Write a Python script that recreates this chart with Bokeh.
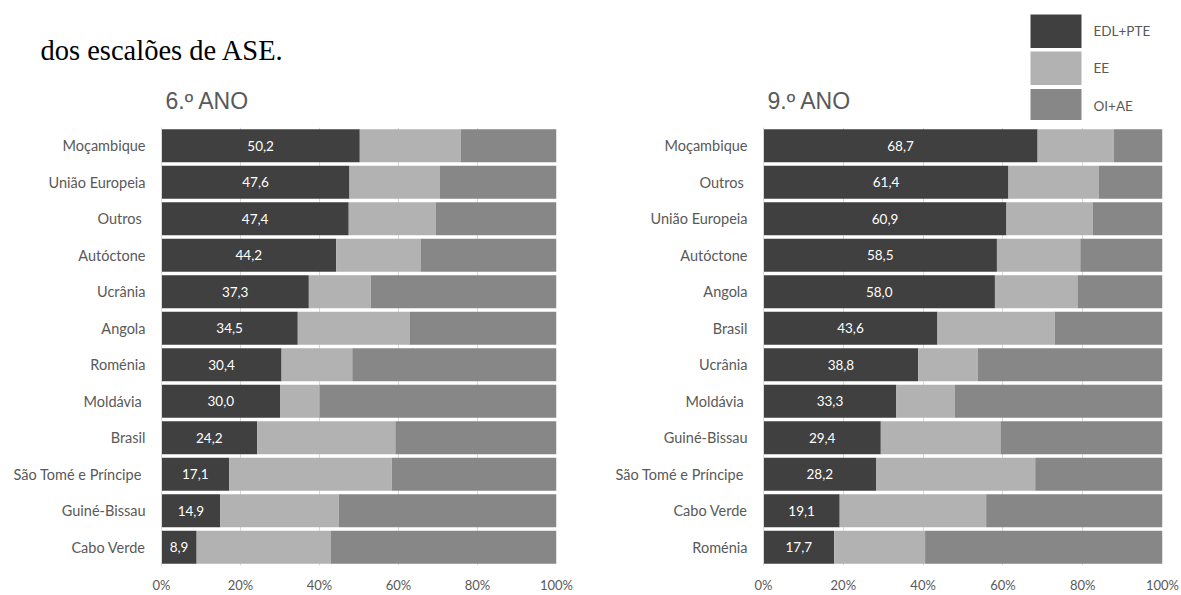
from bokeh.plotting import figure
from bokeh.models import ColumnDataSource, FactorRange, Range1d, FixedTicker, PrintfTickFormatter
from bokeh.layouts import row, column
from bokeh.embed import file_html
from bokeh.resources import INLINE
from bokeh.core.properties import value

# ---------------- data ----------------
series = ["EDL+PTE", "EE", "OI+AE"]
colors = ["#404040", "#b2b2b2", "#878787"]

cats_6 = ["Moçambique", "União Europeia", "Outros ", "Autóctone", "Ucrânia", "Angola",
          "Roménia", "Moldávia ", "Brasil", "São Tomé e Príncipe ", "Guiné-Bissau", "Cabo Verde"]
edl_6 = [50.2, 47.6, 47.4, 44.2, 37.3, 34.5, 30.4, 30.0, 24.2, 17.1, 14.9, 8.9]
ee_6 = [25.6, 22.8, 22.0, 21.4, 15.7, 28.3, 17.9, 10.0, 35.0, 41.2, 30.0, 33.9]
oi_6 = [24.2, 29.6, 30.6, 34.4, 47.0, 37.2, 51.7, 60.0, 40.8, 41.7, 55.1, 57.2]

cats_9 = ["Moçambique", "Outros ", "União Europeia", "Autóctone", "Angola", "Brasil",
          "Ucrânia", "Moldávia ", "Guiné-Bissau", "São Tomé e Príncipe ", "Cabo Verde", "Roménia"]
edl_9 = [68.7, 61.4, 60.9, 58.5, 58.0, 43.6, 38.8, 33.3, 29.4, 28.2, 19.1, 17.7]
ee_9 = [19.1, 22.6, 21.6, 20.9, 20.7, 29.4, 14.9, 14.6, 30.0, 39.9, 36.7, 22.8]
oi_9 = [12.2, 16.0, 17.5, 20.6, 21.3, 27.0, 46.3, 52.1, 40.6, 31.9, 44.2, 59.5]

x_ticks = [0, 20, 40, 60, 80, 100]
title_text = "dos escalões de ASE."
subtitles = ["6.º ANO", "9.º ANO"]

# ---------------- layout / style constants ----------------
PAGE_W = 1181
HEADER_H = 120
MAIN_H = 595 - HEADER_H
W_LEFT = 600
W_RIGHT = PAGE_W - W_LEFT
GRAY_TXT = "#595959"
LABEL_FONT = "Lato"

# header: one full-width figure whose data units are page pixels (y downwards)
hdr = figure(width=PAGE_W, height=HEADER_H, x_range=Range1d(0, PAGE_W), y_range=Range1d(HEADER_H, 0),
             output_backend="svg", toolbar_location=None,
             x_axis_location=None, y_axis_location=None,
             min_border=0, min_border_left=0, min_border_right=0,
             min_border_top=0, min_border_bottom=0)
hdr.xgrid.grid_line_color = None
hdr.ygrid.grid_line_color = None
hdr.outline_line_color = None
hdr.background_fill_color = "white"
hdr.border_fill_color = "white"

hdr.text(x=[40], y=[50], text=[title_text], text_font=value("Liberation Serif"),
         text_font_size="28.5px", text_color="black", text_baseline="alphabetic")
hdr.text(x=[165, 767], y=[100, 100], text=subtitles, text_font=value("Liberation Sans"),
         text_font_size="23px", text_color=GRAY_TXT, text_baseline="alphabetic")
legend_tops = [14, 51, 88.5]
key_h = 33.5
hdr.quad(left=1030, right=1081, top=legend_tops,
         bottom=[t + key_h for t in legend_tops], fill_color=colors, line_color=None)
hdr.text(x=1093, y=[t + key_h / 2 for t in legend_tops], text=series,
         text_font=value(LABEL_FONT), text_font_size="13.5px", text_color=GRAY_TXT,
         text_baseline="middle")


def make(cats, edl, ee, oi, width, border_left, border_right):
    src = ColumnDataSource(dict(
        cat=cats, EDL=edl, EE=ee, OI=oi,
        mid=[v / 2 for v in edl],
        lbl=[f"{v:.1f}".replace(".", ",") for v in edl],
    ))
    p = figure(width=width, height=MAIN_H,
               y_range=FactorRange(factors=cats[::-1]),
               x_range=Range1d(0, 100),
               output_backend="svg", toolbar_location=None,
               min_border_left=border_left, min_border_right=border_right,
               min_border_top=7, min_border_bottom=26)
    p.hbar_stack(["EDL", "EE", "OI"], y="cat", height=0.9, fill_color=colors,
                 line_color=None, source=src)
    p.text(x="mid", y="cat", text="lbl", source=src, text_color="white",
           text_font=value(LABEL_FONT), text_font_size="13.5px",
           text_align="center", text_baseline="middle")

    p.outline_line_color = None
    p.background_fill_color = "white"
    p.border_fill_color = "white"

    p.xaxis.ticker = FixedTicker(ticks=x_ticks)
    p.xaxis.formatter = PrintfTickFormatter(format="%d%%")
    p.xaxis.axis_line_color = None
    p.xaxis.major_tick_line_color = None
    p.xaxis.minor_tick_line_color = None
    p.xaxis.major_tick_out = 0
    p.xaxis.major_tick_in = 0
    p.xaxis.minor_tick_out = 0
    p.xaxis.major_label_text_color = GRAY_TXT
    p.xaxis.major_label_text_font = LABEL_FONT
    p.xaxis.major_label_text_font_size = "13px"
    p.xaxis.major_label_standoff = 11

    p.yaxis.axis_line_color = "#d9d9d9"
    p.yaxis.major_tick_line_color = None
    p.yaxis.minor_tick_line_color = None
    p.yaxis.major_tick_out = 0
    p.yaxis.major_tick_in = 0
    p.yaxis.minor_tick_out = 0
    p.yaxis.major_label_text_color = GRAY_TXT
    p.yaxis.major_label_text_font = LABEL_FONT
    p.yaxis.major_label_text_font_size = "14.5px"
    p.yaxis.major_label_standoff = 16

    p.xgrid.ticker = FixedTicker(ticks=x_ticks)
    p.xgrid.grid_line_color = "#d9d9d9"
    p.ygrid.grid_line_color = None
    return p


p1 = make(cats_6, edl_6, ee_6, oi_6, W_LEFT, 161, 44)
p2 = make(cats_9, edl_9, ee_9, oi_9, W_RIGHT, 163, 19)

layout = column(hdr, row(p1, p2))
open("out.html", "w").write(file_html(layout, INLINE))
